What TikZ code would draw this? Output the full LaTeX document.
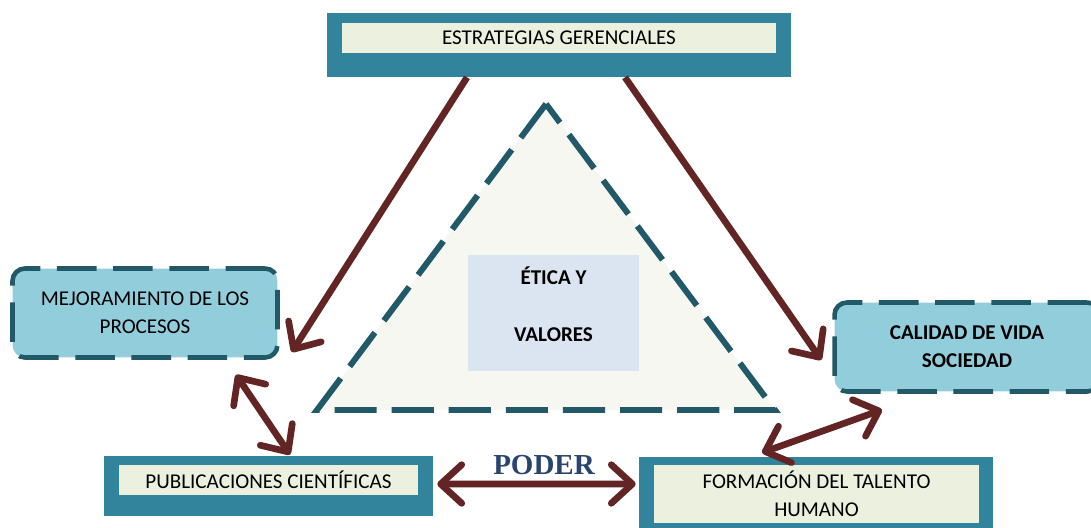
\documentclass[tikz,border=0pt]{standalone}
\usepackage{fontspec}
\setmainfont{Carlito}
\newfontfamily\poderfont{Liberation Serif}
\usetikzlibrary{arrows.meta}
\definecolor{boxteal}{HTML}{31849B}
\definecolor{boxcream}{HTML}{EBF1DE}
\definecolor{boxblue}{HTML}{92CDDC}
\definecolor{boxline}{HTML}{215968}
\definecolor{arrowred}{HTML}{632523}
\definecolor{eticablue}{HTML}{DBE5F1}
\definecolor{poderblue}{HTML}{2A4470}
\definecolor{trifill}{HTML}{F5F7F0}
\begin{document}
\begin{tikzpicture}[x=0.02cm, y=-0.02cm, font=\fontsize{12}{16}\selectfont, line join=round,
	outerbox/.style={fill=boxteal, inner sep=0pt},
	innerbox/.style={fill=boxcream, inner sep=0pt, align=center},
	dashbox/.style={draw=boxline, fill=boxblue, line width=2.6pt, rounded corners=7pt,
		dash pattern=on 22.5pt off 9.5pt, align=center, minimum width=5.3cm, minimum height=1.78cm},
	link/.style={draw=arrowred, line width=3.8pt, line cap=butt, -{Straight Barb[round, length=12pt, width=22pt]}},
	dlink/.style={link, {Straight Barb[round, length=12pt, width=22pt]}-{Straight Barb[round, length=12pt, width=22pt]}}]
	\useasboundingbox (0,0) rectangle (1091,527);
	\path
	(546,104) coordinate (T)
	(317,410) coordinate (L)
	(775,410) coordinate (R)
	;

	% triangulo central
	\draw[boxline, fill=trifill, line width=3.4pt, line join=miter, dash pattern=on 24pt off 8.5pt] (T)--(L)--(R)--cycle;
	\node[fill=eticablue, minimum width=3.42cm, minimum height=2.32cm, align=center, font=\fontsize{12}{16}\selectfont\bfseries] (etica) at (553.5,313) {ÉTICA Y\\[16pt]VALORES\\[-6pt]\mbox{}};

	% cajas
	\node[outerbox, minimum width=9.28cm, minimum height=1.28cm] (estrat) at (559,45) {};
	\node[innerbox, minimum width=8.68cm, minimum height=0.6cm] (estratT) at (559,38) {ESTRATEGIAS GERENCIALES};
	\node[outerbox, minimum width=6.58cm, minimum height=1.2cm] (publ) at (268.5,486) {};
	\node[innerbox, minimum width=5.98cm, minimum height=0.6cm] (publT) at (268.5,480) {PUBLICACIONES CIENTÍFICAS};
	\node[outerbox, minimum width=7.08cm, minimum height=1.48cm] (form) at (816,494) {};
	\node[innerbox, minimum width=6.5cm, minimum height=1.16cm] (formT) at (816.5,494) {FORMACIÓN DEL TALENTO\\HUMANO};
	\node[dashbox] (mejora) at (145,313) {MEJORAMIENTO DE LOS\\PROCESOS};
	\node[dashbox, font=\fontsize{12}{16}\selectfont\bfseries] (calidad) at (967,347) {CALIDAD DE VIDA\\SOCIEDAD};

	% flechas
	\draw[link] ([xshift=-1.84cm]estrat.south) -- ([shift={(0.24cm,-0.78cm)}]mejora.east);
	\draw[link] ([xshift=1.32cm]estrat.south) -- ([shift={(-0.22cm,-0.26cm)}]calidad.west);
	\draw[dlink] ([shift={(1.82cm,-0.3cm)}]mejora.south) -- ([shift={(0.43cm,0.02cm)}]publ.north);
	\draw[dlink] ([shift={(0.08cm,0.04cm)}]publ.east) -- ([shift={(-0.06cm,0.2cm)}]form.west);
	\draw[dlink] ([shift={(-1.08cm,0.08cm)}]form.north) -- ([shift={(-1.7cm,-0.32cm)}]calidad.south);

	\node[font=\poderfont\bfseries\fontsize{16.5}{18}\selectfont, text=poderblue] (poder) at (544,465) {PODER};
\end{tikzpicture}
\end{document}
